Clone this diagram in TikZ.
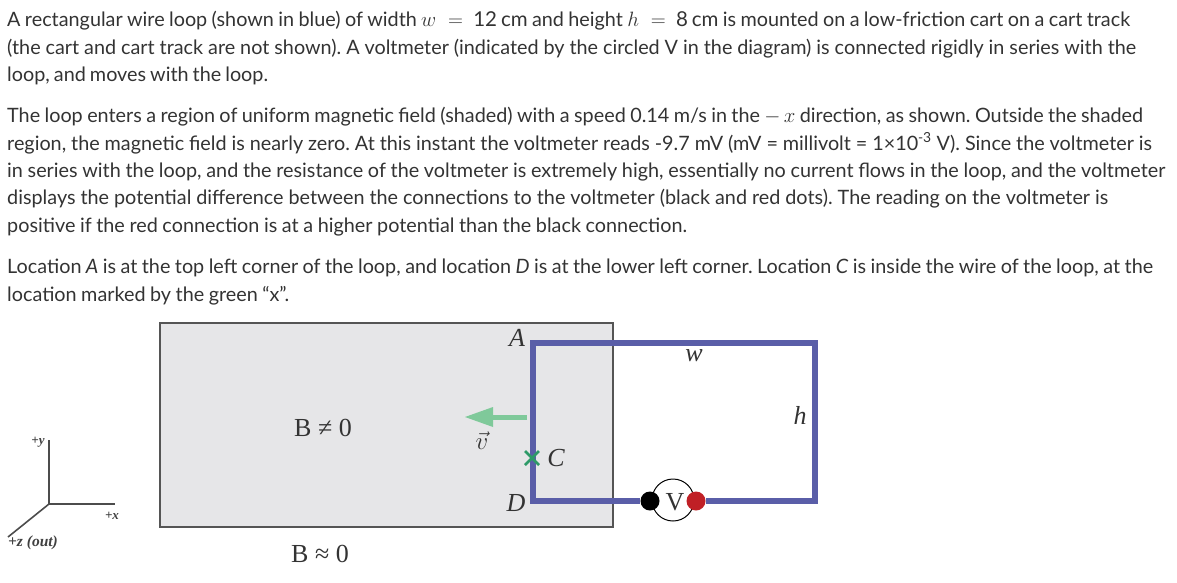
\documentclass[tikz,border=0pt]{standalone}
\usepackage{fontspec}
\setmainfont{Lato}
\newfontfamily\serifface{Liberation Serif}
\definecolor{txt}{HTML}{333333}
\definecolor{wire}{HTML}{5A5EA8}
\definecolor{regionfill}{HTML}{E6E6E8}
\definecolor{regionedge}{HTML}{555555}
\definecolor{speedarrow}{HTML}{7FC99A}
\definecolor{crossmark}{HTML}{2E9A68}
\definecolor{redpin}{HTML}{C02026}
\newcommand{\fitline}[2]{\hbox to #1pt{\frenchspacing\spaceskip=.2em plus 1em minus .1em\relax #2}}
\newcommand{\mm}[1]{{\fontsize{20.5}{22}\selectfont$#1$}}
\tikzset{
  x=1pt,y=-1pt,
  para/.style={anchor=base west,inner sep=0pt,font=\fontsize{19.8}{22}\selectfont,text=txt},
  fig/.style={inner sep=0pt,text=black!80,font=\fontsize{26}{28}\serifface},
  figi/.style={inner sep=0pt,text=black!80,font=\fontsize{26}{28}\serifface\itshape},
  axislabel/.style={inner sep=0pt,text=black!75,font=\fontsize{13}{15}\serifface\bfseries\itshape},
  axisline/.style={line width=1.6pt,draw=black!70},
  wireline/.style={line width=5.5pt,draw=wire,line join=miter},
  pin/.style={circle,minimum size=19pt,inner sep=0pt}
}
\begin{document}
\begin{tikzpicture}
\useasboundingbox (0,0) rectangle (1177,582);
\node[para] (l1) at (7,26.5) {\fitline{1123}{A rectangular wire loop (shown in blue) of width \mm{w\;=\;} \mm{\mathrm{12\ cm}} and height \mm{h\;=\;} \mm{\mathrm{8\ cm}} is mounted on a low-friction cart on a cart track}};
\node[para] (l2) at (7,54.5) {\fitline{1129}{(the cart and cart track are not shown). A voltmeter (indicated by the circled V in the diagram) is connected rigidly in series with the}};
\node[para] (l3) at (7,81.5) {\fitline{261}{loop, and moves with the loop.}};
\node[para] (l4) at (7,122.5) {\fitline{1136}{The loop enters a region of uniform magnetic field (shaded) with a speed 0.14 m/s in the \mm{-\,x} direction, as shown. Outside the shaded}};
\node[para] (l5) at (7,150.5) {\fitline{1145}{region, the magnetic field is nearly zero. At this instant the voltmeter reads -9.7 mV (mV = millivolt = 1×10\textsuperscript{-3} V). Since the voltmeter is}};
\node[para] (l6) at (7,177.5) {\fitline{1158}{in series with the loop, and the resistance of the voltmeter is extremely high, essentially no current flows in the loop, and the voltmeter}};
\node[para] (l7) at (7,204.5) {\fitline{1101}{displays the potential difference between the connections to the voltmeter (black and red dots). The reading on the voltmeter is}};
\node[para] (l8) at (7,232.5) {\fitline{680}{positive if the red connection is at a higher potential than the black connection.}};
\node[para] (l9) at (7,273.5) {\fitline{1146}{Location \textit{A} is at the top left corner of the loop, and location \textit{D} is at the lower left corner. Location \textit{C} is inside the wire of the loop, at the}};
\node[para] (l10) at (7,301.5) {\fitline{282}{location marked by the green “x”.}};

\node[draw=regionedge,fill=regionfill,line width=1.3pt,minimum width=453pt,minimum height=204pt,inner sep=0pt] (region) at (386.5,425) {};

\coordinate (tl) at (533,343);
\coordinate (tr) at (815,343);
\coordinate (br) at (815,501);
\coordinate (bl) at (533,501);
\node[circle,draw=black,line width=1pt,fill=white,minimum size=42pt,inner sep=0pt] (meter) at (673,500) {};
\node[pin,fill=black] (blackpin) at (650,501) {};
\node[pin,fill=redpin] (redpin) at (696,501) {};
\draw[wireline] (blackpin.west) -- (bl) -- (tl) -- (tr) -- (br) -- (redpin.east);
\node[fig] (vlabel) at (675,502) {V};

\coordinate (arrowtail) at (527,417);
\coordinate (arrowneck) at (493,417);
\coordinate (arrowtip) at (465,417);
\draw[speedarrow,line width=5pt] (arrowtail) -- (arrowneck);
\fill[speedarrow] (493,407) -- (arrowtip) -- (493,427) -- cycle;
\draw[crossmark,line width=2.8pt] (525,451) -- (539,465) (539,451) -- (525,465);

\node[figi] (A) at (517,338) {A};
\node[figi] (D) at (516,503) {D};
\node[figi] (C) at (556,458) {C};
\node[figi] (w) at (694,356) {w};
\node[figi] (h) at (800,415) {h};
\node[inner sep=0pt,text=black!80,font=\fontsize{24}{26}\selectfont] (v) at (482,441) {$\vec{v}$};
\node[fig] (B1) at (323,428) {B ≠ 0};
\node[fig] (B2) at (320,554) {B ≈ 0};

\coordinate (origin) at (49,504);
\coordinate (yend) at (49,440);
\coordinate (xend) at (115,504);
\coordinate (zend) at (8,537);
\draw[axisline] (yend) -- (origin) -- (xend);
\draw[axisline] (origin) -- (zend);
\node[axislabel] (yl) at (38,442) {+y};
\node[axislabel] (xl) at (112,516) {+x};
\node[axislabel,font=\fontsize{15.5}{17}\serifface\bfseries\itshape] (zl) at (33,543) {+z (out)};
\end{tikzpicture}
\end{document}
